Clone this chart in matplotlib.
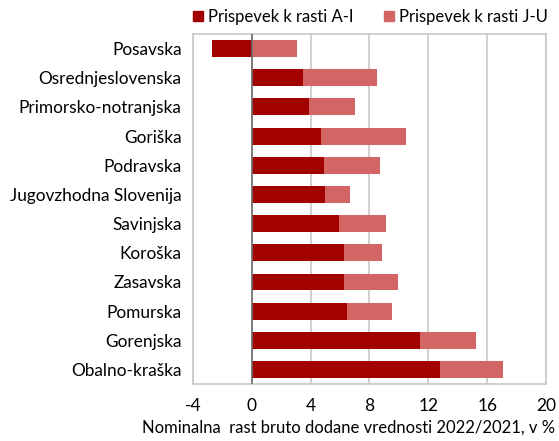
import matplotlib
matplotlib.use("Agg")
import matplotlib.pyplot as plt
from matplotlib.lines import Line2D
import numpy as np

regions = ["Posavska", "Osrednjeslovenska", "Primorsko-notranjska", "Goriška",
           "Podravska", "Jugovzhodna Slovenija", "Savinjska", "Koroška",
           "Zasavska", "Pomurska", "Gorenjska", "Obalno-kraška"]
a_i = [-2.7, 3.5, 3.9, 4.7, 4.9, 5.0, 5.9, 6.25, 6.3, 6.5, 11.4, 12.8]
j_u = [3.1, 5.0, 3.1, 5.8, 3.8, 1.7, 3.2, 2.6, 3.65, 3.05, 3.85, 4.25]
xticks = [-4, 0, 4, 8, 12, 16, 20]

c_ai = "#a30000"
c_ju = "#d46565"

plt.rcParams['font.family'] = ['Lato', 'DejaVu Sans']

fig = plt.figure(figsize=(5.59, 4.41), dpi=100)
ax = fig.add_axes([0.345, 0.129, 0.632, 0.794])

y = np.arange(len(regions))
left_ju = [max(v, 0) for v in a_i]
ax.barh(y, a_i, height=0.58, color=c_ai, zorder=3)
ax.barh(y, j_u, left=left_ju, height=0.58, color=c_ju, zorder=3)

ax.set_xlim(-4, 20)
ax.set_ylim(11.5, -0.5)
ax.set_xticks(xticks)
ax.set_xticklabels([str(t) for t in xticks], fontsize=12.5)
ax.set_yticks(y)
ax.set_yticklabels(regions, fontsize=12.4)
ax.tick_params(length=0, pad=8)
ax.tick_params(axis='x', pad=10)
ax.grid(axis='x', color="#c8c8c8", linewidth=1.2, zorder=0)
ax.axvline(0, color="#6e6e6e", linewidth=1.2, zorder=4)
for s in ax.spines.values():
    s.set_color("#c8c8c8")
    s.set_linewidth(1.2)
fig.text(555 / 559, 1 - 428 / 441, "Nominalna  rast bruto dodane vrednosti 2022/2021, v %",
         ha='right', va='center', fontsize=12)

handles = [Line2D([], [], marker='s', linestyle='', color=c_ai, markersize=7),
           Line2D([], [], marker='s', linestyle='', color=c_ju, markersize=7)]
fig.legend(handles, ["Prispevek k rasti A-I", "Prispevek k rasti J-U"], ncol=2,
           loc='center', bbox_to_anchor=(0.66, 0.962), frameon=False, fontsize=12,
           handletextpad=0.1, columnspacing=1.6, handlelength=1.0)

fig.savefig("out.png", dpi=100)
